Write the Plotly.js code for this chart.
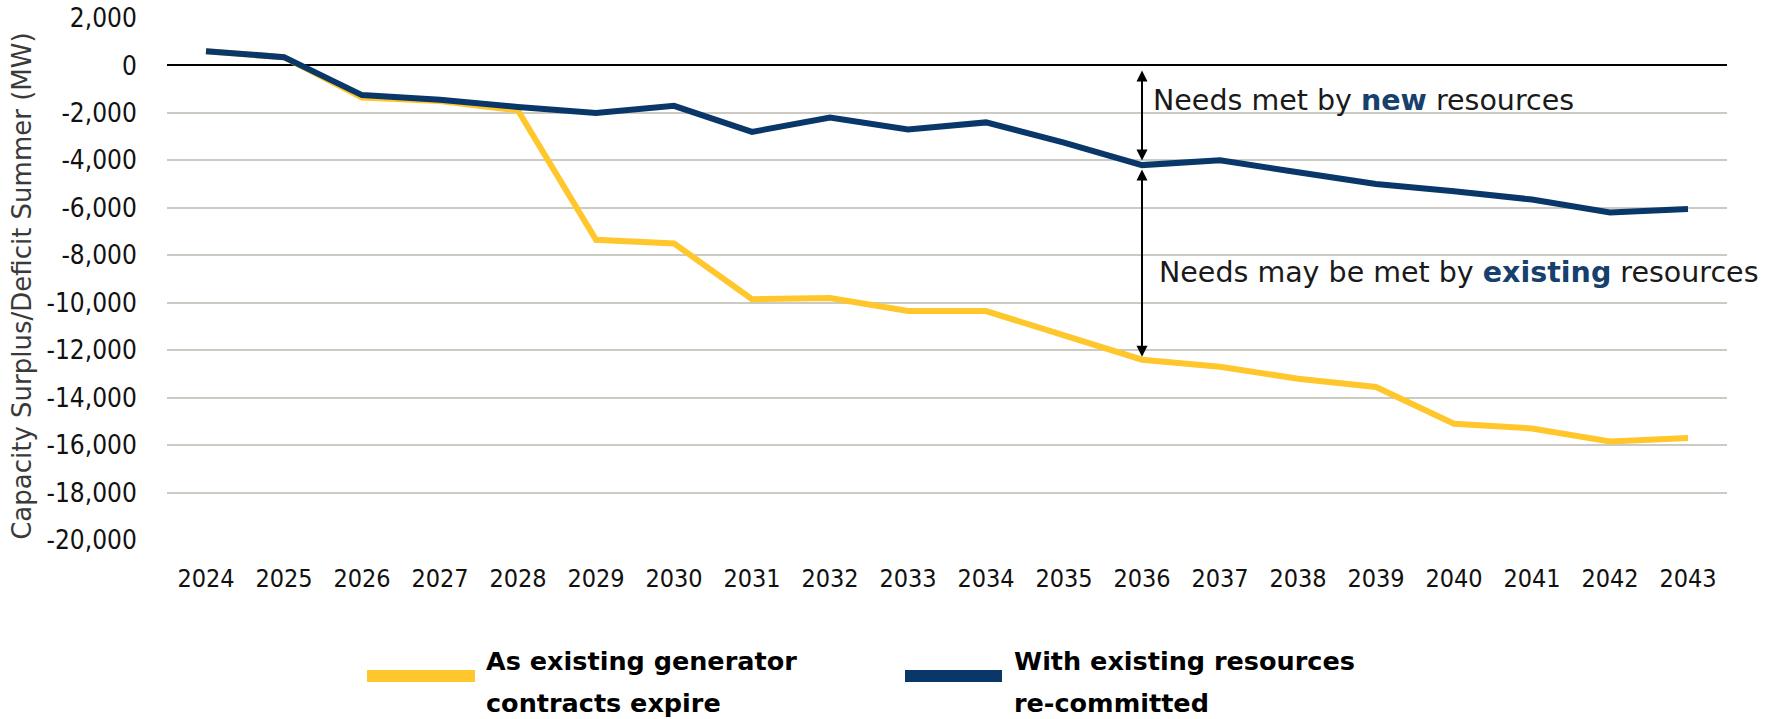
<!DOCTYPE html>
<html>
<head>
<meta charset="utf-8">
<script src="https://cdn.plot.ly/plotly-3.0.1.min.js"></script>
<style>html,body{margin:0;padding:0;background:#fff;}#chart{width:1775px;height:719px;}</style>
</head>
<body>
<div id="chart"></div>
<script>
// ---- data ----
const years = ["2024","2025","2026","2027","2028","2029","2030","2031","2032","2033","2034","2035","2036","2037","2038","2039","2040","2041","2042","2043"];
const expireValues = [600, 350, -1350, -1500, -1900, -7350, -7500, -9850, -9800, -10350, -10350, -11350, -12400, -12700, -13200, -13550, -15100, -15300, -15850, -15700];
const recommitValues = [600, 350, -1250, -1450, -1750, -2000, -1700, -2800, -2200, -2700, -2400, -3250, -4200, -4000, -4500, -5000, -5300, -5650, -6200, -6050];
const seriesNames = ["As existing generator<br>contracts expire", "With existing resources<br>re-committed"];
const yTickVals = [2000, 0, -2000, -4000, -6000, -8000, -10000, -12000, -14000, -16000, -18000, -20000];
const yTickLabels = ["2,000", "0", "-2,000", "-4,000", "-6,000", "-8,000", "-10,000", "-12,000", "-14,000", "-16,000", "-18,000", "-20,000"];
const yTitle = "Capacity Surplus/Deficit Summer (MW)";
const arrowYear = "2036";
const noteNew = ["Needs met by ", "new", " resources"];
const noteExisting = ["Needs may be met by ", "existing", " resources"];

// ---- style ----
const YELLOW = "#FFC72C";
const BLUE = "#0A3769";
const ACCENT = "#17406D";
const colors = [YELLOW, BLUE];

const traces = [expireValues, recommitValues].map((vals, i) => ({
  type: "scatter", mode: "lines", x: years, y: vals, name: seriesNames[i],
  line: {color: colors[i], width: 6}, showlegend: false, hoverinfo: "x+y"
}));

const ML = 167, MR = 48, MT = 18, MB = 179, W = 1775, H = 719;
const PW = W - ML - MR, PH = H - MT - MB;
const px2x = p => (p - ML) / PW;
const py2y = p => (H - MB - p) / PH;

const idx = years.indexOf(arrowYear);
const annotations = [
  {xref: "paper", yref: "paper", x: px2x(22), y: 0.485, text: yTitle, textangle: -90, showarrow: false,
   font: {family: "DejaVu Sans", size: 26, color: "#3a3a3a"}, xanchor: "center", yanchor: "middle"},
  // double-headed arrows
  {xref: "x", yref: "y", axref: "x", ayref: "y", x: idx, y: 0, ax: idx, ay: recommitValues[idx],
   showarrow: true, arrowside: "end+start", arrowhead: 2, arrowsize: 1.1, arrowwidth: 2, arrowcolor: "#000",
   standoff: 5, startstandoff: 3, text: ""},
  {xref: "x", yref: "y", axref: "x", ayref: "y", x: idx, y: expireValues[idx], ax: idx, ay: recommitValues[idx],
   showarrow: true, arrowside: "end+start", arrowhead: 2, arrowsize: 1.1, arrowwidth: 2, arrowcolor: "#000",
   standoff: 3, startstandoff: 3, text: ""},
  {xref: "paper", yref: "paper", x: px2x(1151), y: py2y(100), xanchor: "left", yanchor: "middle", showarrow: false,
   text: noteNew[0] + "<b><span style='color:" + ACCENT + "'>" + noteNew[1] + "</span></b>" + noteNew[2],
   font: {family: "DejaVu Sans", size: 28.5, color: "#1a1a1a"}},
  {xref: "paper", yref: "paper", x: px2x(1157), y: py2y(272), xanchor: "left", yanchor: "middle", showarrow: false,
   text: noteExisting[0] + "<b><span style='color:" + ACCENT + "'>" + noteExisting[1] + "</span></b>" + noteExisting[2],
   font: {family: "DejaVu Sans", size: 28.5, color: "#1a1a1a"}}
];

// custom legend
const legendSwatch = [[367, 475], [905, 1002]];
const legendTextX = [484, 1012];
const shapes = [];
seriesNames.forEach((nm, i) => {
  shapes.push({type: "line", xref: "paper", yref: "paper",
    x0: px2x(legendSwatch[i][0]), x1: px2x(legendSwatch[i][1]), y0: py2y(676), y1: py2y(676),
    line: {color: colors[i], width: 12}});
  nm.split("<br>").forEach((ln, j) => {
    annotations.push({xref: "paper", yref: "paper", x: px2x(legendTextX[i]), y: py2y(661 + j * 42),
      xanchor: "left", yanchor: "middle", showarrow: false, text: "<b>" + ln + "</b>",
      font: {family: "DejaVu Sans", size: 25.5, color: "#000"}});
  });
});

const layout = {
  width: W, height: H,
  margin: {l: ML, r: MR, t: MT, b: MB, pad: 0},
  paper_bgcolor: "#fff", plot_bgcolor: "#fff",
  showlegend: false,
  xaxis: {type: "category", range: [-0.5, years.length - 0.5], showgrid: false, zeroline: false, showline: false,
    ticks: "outside", ticklen: 16, tickcolor: "rgba(0,0,0,0)",
    tickfont: {family: "DejaVu Sans Condensed", size: 25, color: "#111"}, fixedrange: true},
  yaxis: {range: [-20000, 2000], tickvals: yTickVals, ticktext: yTickLabels, showgrid: true,
    gridcolor: "#CBCBC3", gridwidth: 2, zeroline: true, zerolinecolor: "#000", zerolinewidth: 2,
    showline: false, ticks: "outside", ticklen: 24, tickcolor: "rgba(0,0,0,0)",
    tickfont: {family: "DejaVu Sans Condensed", size: 26, color: "#111"}, fixedrange: true},
  annotations: annotations,
  shapes: shapes
};

Plotly.newPlot("chart", traces, layout, {displayModeBar: false, staticPlot: true});
</script>
</body>
</html>
